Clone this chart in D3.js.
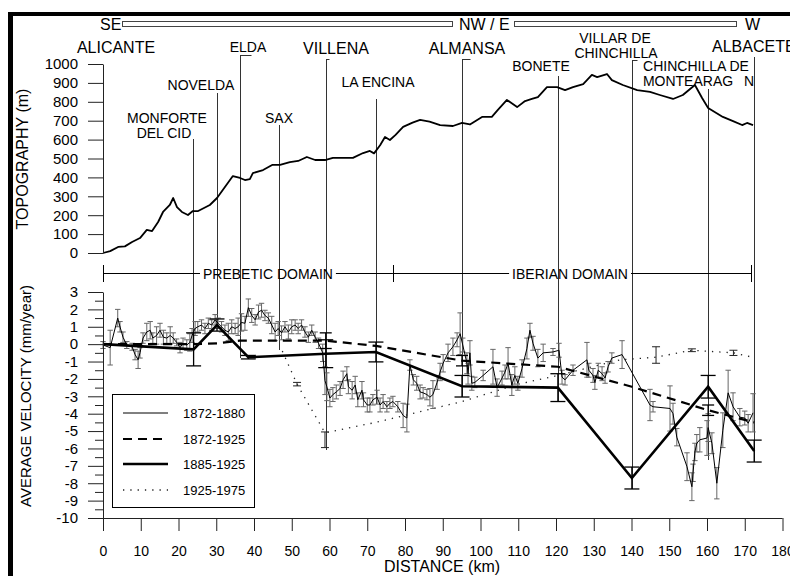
<!DOCTYPE html>
<html><head><meta charset="utf-8">
<script src="https://cdn.jsdelivr.net/npm/d3@7"></script>
<style>
body{margin:0;background:#fff}
svg{display:block}
text{font-family:Arial,"Liberation Sans",sans-serif;fill:#000}
</style>
</head><body>
<svg id="c" width="790" height="576"></svg>
<script>
// ---------------- DATA ----------------
const stationNames = ["ALICANTE","MONFORTE DEL CID","NOVELDA","ELDA","SAX","VILLENA","LA ENCINA","ALMANSA","BONETE","VILLAR DE CHINCHILLA","CHINCHILLA DE MONTEARAGON","ALBACETE"];
const stationKm = [0, 23.8, 30.2, 36.2, 46.7, 59.0, 72.3, 95.1, 120.5, 140.1, 160.3, 172.5];

const topoKm = [0,1.9,4,5.8,7.7,9.8,11.6,13,14.6,15.9,17.7,18.6,19.6,20.9,22.5,23.8,25.2,28.3,30.2,34.4,36.3,37.6,38.9,39.7,42.4,44.8,46.9,49.5,51.7,54,56.2,58.8,60.9,63.6,66.2,68.9,70.7,71.8,73.4,74.7,76,77.5,79.5,82,84,86.5,89.3,92.7,95.1,97.2,100.4,103,104.6,107,109.7,111.8,113.6,115.2,117.6,120.3,122.4,124.5,127.2,129.5,130.9,133.5,134.8,137.7,141.5,144.9,147.5,151,153.6,156.8,158.7,160.3,164.2,166.9,169.3,170.6,172.2];
const topoElev = [0,10,32,35,58,79,122,116,164,217,254,291,243,217,201,222,222,254,291,407,397,386,391,423,439,466,466,481,487,508,492,492,503,503,503,529,540,527,570,614,598,625,667,690,704,695,677,672,688,680,720,720,757,810,772,804,815,825,878,878,862,878,894,942,931,947,915,889,862,852,836,815,836,889,820,767,720,698,677,688,677];

const domainNames = ["PREBETIC DOMAIN","IBERIAN DOMAIN"];
const domainStartKm = [0, 76.8];
const domainEndKm = [76.8, 171.7];

const seriesNames = ["1872-1880","1872-1925","1885-1925","1925-1975"];

// 1872-1880 levelling (thin line)
const km1872_1880 = [0,1.9,3.9,4.5,5.3,6.3,7.7,8.5,9.3,9.8,10.6,11.6,12.5,13.2,14.2,15.1,16,16.9,17.8,18.6,19.5,20.4,21.2,22.2,23,23.6,24.4,25.1,26.1,27,27.9,28.8,29.7,30.5,31.4,32.3,33.2,34.1,35,35.8,36.7,37.6,38.5,39.4,40.3,41.2,42,42.9,43.8,44.7,45.6,46.4,47.3,48.2,49.1,50,50.9,51.7,52.6,53.5,54.4,55.3,56.2,57.1,58.2,58.8,59.3,60.1,60.9,61.8,62.8,63.6,64.6,65,66,66.8,67.5,68.6,69,70,70.7,71.5,72.6,73.4,74.2,75.2,76,76.8,78.1,79.5,80.5,81.3,82.2,83.1,84,84.8,85.8,86.6,87.4,88.5,89.3,90.1,91.4,92.7,93.8,94.6,95.3,96.4,96.7,97.2,97.7,98.5,100.7,103.3,104.4,105.7,106.5,107.3,108.3,109.1,109.9,111,112.3,113.1,113.9,115.2,116.6,119.2,120.8,121.6,122.4,124.5,128.2,128.7,129.8,130.3,131.2,132.2,133,133.8,134.8,137.5,144.9,145.7,150.2,151,152,154.7,156,156.3,156.8,157.3,158.1,160,160.3,161.3,162.6,164.2,165.6,166.9,168.7,170,170.9,172.2];
const vel1872_1880 = [-0.05,-0.2,1.5,1.0,0.4,-0.05,-0.15,-0.6,-0.9,-0.5,0.35,0.7,0.8,0.35,0.5,0.8,0.4,0.35,0.5,0.35,0.1,-0.2,0.05,-0.05,0.1,0.5,0.9,1.0,1.1,0.9,1.2,1.1,1.4,1.2,1.0,0.8,0.7,1.0,0.9,1.0,1.25,1.2,2.1,1.65,1.4,1.85,1.95,1.65,1.5,1.1,0.7,0.9,0.65,1.0,0.7,1.0,1.1,0.9,1.1,0.7,0.4,0.8,0.4,0.05,-0.5,-2.1,-2.45,-3.1,-2.9,-2.75,-2.55,-2.05,-1.7,-2.45,-2.65,-2.35,-3.2,-2.65,-3.2,-3.5,-3.5,-3.2,-3.05,-3.5,-3.3,-3.6,-3.4,-3.3,-3.6,-4.1,-4.25,-1.2,-2.05,-2.25,-2.75,-2.8,-2.9,-3.05,-2.9,-2.2,-1.6,-1.1,-0.5,-0.15,0.25,0.6,-0.05,-1.1,-1.7,-0.5,-2.25,-2.2,-1.8,-1.3,-2.5,-1.95,-1.6,-1.1,-2.35,-1.8,-2.25,-1.4,-0.25,0.8,0.05,-0.8,-0.5,-0.45,-0.35,-1.9,-2.05,-1.5,-0.9,-1.5,-1.8,-2.2,-1.5,-1.7,-1.95,-1.3,-0.8,-0.6,-3.5,-3.6,-3.7,-4.0,-5.35,-7.05,-8.2,-7.4,-6.2,-5.7,-5.5,-5.4,-4.8,-5.7,-8.0,-4.95,-2.8,-3.6,-4.2,-4.25,-4.55,-3.95];
const err1872_1880 = [0.2,1.0,0.5,0.3,0.3,0.2,0.2,0.3,0.5,0.3,0.3,0.5,0.5,0.3,0.5,0.4,0.4,0.3,0.5,0.3,0.2,0.3,0.3,0.3,0.5,0.4,0.4,0.3,0.3,0.3,0.3,0.3,0.3,0.3,0.3,0.3,0.5,0.4,0.3,0.5,0.5,0.4,0.5,0.4,0.3,0.4,0.4,0.3,0.3,0.5,0.5,0.4,0.4,0.3,0.4,0.4,0.3,0.3,0.3,0.3,0.3,0.3,0.3,0.3,0.5,0.8,0.8,0.5,0.4,0.4,0.4,0.5,0.4,0.4,0.5,0.5,0.4,0.5,0.4,0.4,0.4,0.3,0.4,0.4,0.4,0.3,0.3,0.3,0.3,0.7,0.8,0.3,0.3,0.4,0.4,0.3,0.3,0.5,0.8,0.4,0.5,0.5,0.5,0.5,0.4,1.2,0.4,0.6,0.6,0.7,0.4,0.3,0.3,1.0,0.5,0.4,0.4,0.9,0.6,0.5,0.4,0.5,0.6,0.4,0.4,0.5,0.5,0.2,0.4,0.4,0.3,0.3,1.0,0.4,0.4,0.4,0.4,0.4,0.3,0.3,0.3,0.8,0.9,0.3,1.3,0.6,0.5,0.8,0.8,0.5,0.5,0.5,0.7,1.0,0.8,0.6,0.9,1.0,1.3,0.8,0.5,0.4,0.5,1.1];

// 1872-1925 (dashed)
const km1872_1925 = [0, 24, 30.2, 36.2, 59, 72.3, 95.1, 120.5, 140.1, 160.3, 172.5];
const vel1872_1925 = [0, 0, 0.05, 0.2, 0.2, -0.1, -0.95, -1.3, -2.45, -3.8, -4.5];
const err1872_1925 = [0, 0, 0, 0, 0.45, 0, 0.3, 0, 0, 0.3, 0];

// 1885-1925 (thick)
const km1885_1925 = [0, 24, 30.2, 38.5, 59, 72.3, 95.1, 120.5, 140.1, 160.3, 172.5];
const vel1885_1925 = [0, -0.3, 1.1, -0.75, -0.55, -0.45, -2.42, -2.5, -7.7, -2.45, -6.15];
const err1885_1925 = [0, 0.95, 0.35, 0.1, 0.8, 0.57, 0.62, 0.8, 0.63, 0.65, 0.63];

// 1925-1975 (dotted)
const km1925_1975 = [47.5, 51.4, 58.8, 72.3, 95.1, 110, 120.5, 137, 146.5, 156, 167, 172];
const vel1925_1975 = [-0.4, -2.3, -5.1, -4.5, -3.3, -2.3, -1.8, -0.9, -0.75, -0.35, -0.5, -0.75];
const errLo1925_1975 = [0, 0.1, 0.85, 0, 0, 0, 0, 0, 0.35, 0.08, 0.15, 0];
const errHi1925_1975 = [0, 0.1, 0.05, 0, 0, 0, 0, 0, 0.6, 0.08, 0.15, 0];

const topoTicks = d3.range(0, 1001, 100);
const velTicks = d3.range(-10, 4, 1);
const distTicks = d3.range(0, 181, 10);

// ---------------- LAYOUT ----------------
const svg = d3.select("#c");
const x = d3.scaleLinear().domain([0, 180]).range([103, 782.5]);
const yT = d3.scaleLinear().domain([0, 1000]).range([253, 64]);
const yV = d3.scaleLinear().domain([-10, 3]).range([518, 292]);
const plainFmt = d => String(d);

// label layout per station: [text, cx, baseline, size, anchor]
const labelLayout = [
  [["ALICANTE",116,53,16,"middle"]],
  [["MONFORTE",167,123,14,"middle"],["DEL CID",164,138,14,"middle"]],
  [["NOVELDA",201,90,14,"middle"]],
  [["ELDA",248,52,14,"middle"]],
  [["SAX",279,123,14,"middle"]],
  [["VILLENA",336,54,16,"middle"]],
  [["LA ENCINA",378,87,14,"middle"]],
  [["ALMANSA",467,54,16,"middle"]],
  [["BONETE",541,71,14,"middle"]],
  [["VILLAR DE",615,43,14,"middle"],["CHINCHILLA",616,58,14,"middle"]],
  [["CHINCHILLA DE",696,71,14,"middle"],["MONTEARAG",688,86,14,"middle"],["N",749,86,14,"middle"]],
  [["ALBACETE",712,52,16,"start"]]
];
const lineTop = [null,139,93,55,125,59,99,59,76,60,89,57];
const lineBottom = [null,366,318,358,350,450,404,397,402,489,460,462];
const hookLen = [0,0,0,11,0,3,0,8,0,5,0,0];
const domainLabelShift = [20, -2];

// frame
svg.append("rect").attr("x",8).attr("y",12).attr("width",782).attr("height",4).attr("fill","#000");
svg.append("rect").attr("x",8).attr("y",12).attr("width",5).attr("height",564).attr("fill","#000");

// header
const hdr = svg.append("g").style("font-size","16px");
hdr.append("text").attr("x",100).attr("y",30).text("SE");
hdr.append("rect").attr("x",122.5).attr("y",21.5).attr("width",330).attr("height",5).attr("fill","none").attr("stroke","#444").attr("stroke-width",1);
hdr.append("text").attr("x",459).attr("y",30).text("NW / E");
hdr.append("rect").attr("x",514.5).attr("y",21.5).attr("width",222).attr("height",5).attr("fill","none").attr("stroke","#444").attr("stroke-width",1);
hdr.append("text").attr("x",745).attr("y",30).text("W");

// station vertical lines
const stG = svg.append("g");
stationKm.forEach((k,i)=>{
  if(lineTop[i]==null) return;
  const px = Math.round(x(k))+0.5;
  stG.append("line").attr("x1",px).attr("x2",px).attr("y1",lineTop[i]).attr("y2",lineBottom[i])
    .attr("stroke","#333").attr("stroke-width",1);
  if(hookLen[i]) stG.append("line").attr("x1",px).attr("x2",px+hookLen[i]).attr("y1",lineTop[i]+0.5).attr("y2",lineTop[i]+0.5)
    .attr("stroke","#333").attr("stroke-width",1);
});

// station labels
stationNames.forEach((n,i)=>{
  labelLayout[i].forEach(l=>{
    svg.append("text").attr("x",l[1]).attr("y",l[2]).attr("text-anchor",l[4])
      .style("font-size",l[3]+"px").text(l[0]);
  });
});

// topography
svg.append("path").datum(topoKm.map((k,i)=>[k,topoElev[i]]))
  .attr("fill","none").attr("stroke","#000").attr("stroke-width",1.8).attr("stroke-linejoin","round")
  .attr("d", d3.line().x(d=>x(d[0])).y(d=>yT(d[1])));

// topography axis
const axT = svg.append("g").attr("transform","translate(103,0)")
  .call(d3.axisLeft(yT).tickValues(topoTicks).tickFormat(plainFmt).tickSize(15).tickSizeOuter(0).tickPadding(10));
axT.selectAll("text").style("font-size","15px").style("font-family","Arial, 'Liberation Sans', sans-serif");
axT.selectAll("line,path").attr("stroke","#222");

svg.append("text").attr("transform","translate(27.5,159) rotate(-90)").attr("text-anchor","middle")
  .style("font-size","16px").text("TOPOGRAPHY (m)");

// domain bar
const domY = 273.5;
const domG = svg.append("g");
domainNames.forEach((n,i)=>{
  const x0 = x(domainStartKm[i]), x1 = x(domainEndKm[i]);
  const cx = (x0+x1)/2 + domainLabelShift[i];
  const t = domG.append("text").attr("x",cx).attr("y",278.5).attr("text-anchor","middle").style("font-size","14px").text(n);
  const w = t.node().getComputedTextLength();
  domG.append("line").attr("x1",x0).attr("x2",cx-w/2-3).attr("y1",domY).attr("y2",domY).attr("stroke","#000");
  domG.append("line").attr("x1",cx+w/2+3).attr("x2",x1).attr("y1",domY).attr("y2",domY).attr("stroke","#000");
});
[domainStartKm[0], domainStartKm[1], domainEndKm[1]].forEach(k=>{
  const px = Math.round(x(k))+0.5;
  domG.append("line").attr("x1",px).attr("x2",px).attr("y1",265).attr("y2",282).attr("stroke","#000");
});

// velocity series
const vline = d3.line().x(d=>x(d[0])).y(d=>yV(d[1]));
const serG = svg.append("g");

function errorBars(g, kms, vals, lo, hi, half, color, width){
  kms.forEach((k,i)=>{
    if(!lo[i] && !hi[i]) return;
    const px = x(k), ya = yV(vals[i]+hi[i]), yb = yV(vals[i]-lo[i]);
    g.append("line").attr("x1",px).attr("x2",px).attr("y1",ya).attr("y2",yb).attr("stroke",color).attr("stroke-width",width);
    g.append("line").attr("x1",px-half).attr("x2",px+half).attr("y1",ya).attr("y2",ya).attr("stroke",color).attr("stroke-width",width);
    g.append("line").attr("x1",px-half).attr("x2",px+half).attr("y1",yb).attr("y2",yb).attr("stroke",color).attr("stroke-width",width);
  });
}

// 1925-1975 dotted
serG.append("path").datum(km1925_1975.map((k,i)=>[k,vel1925_1975[i]]))
  .attr("fill","none").attr("stroke","#222").attr("stroke-width",1.3).attr("stroke-dasharray","1.3,6").attr("d",vline);
errorBars(serG, km1925_1975, vel1925_1975, errLo1925_1975, errHi1925_1975, 4, "#222", 1);

// 1872-1880 thin
errorBars(serG, km1872_1880, vel1872_1880, err1872_1880, err1872_1880, 2.7, "#666", 1);
serG.append("path").datum(km1872_1880.map((k,i)=>[k,vel1872_1880[i]]))
  .attr("fill","none").attr("stroke","#000").attr("stroke-width",1).attr("d",vline);

// 1872-1925 dashed
serG.append("path").datum(km1872_1925.map((k,i)=>[k,vel1872_1925[i]]))
  .attr("fill","none").attr("stroke","#000").attr("stroke-width",2.2).attr("stroke-dasharray","9,6").attr("d",vline);
errorBars(serG, km1872_1925, vel1872_1925, err1872_1925, err1872_1925, 6, "#000", 1.3);

// 1885-1925 thick
serG.append("path").datum(km1885_1925.map((k,i)=>[k,vel1885_1925[i]]))
  .attr("fill","none").attr("stroke","#000").attr("stroke-width",2.6).attr("stroke-linejoin","miter").attr("d",vline);
errorBars(serG, km1885_1925, vel1885_1925, err1885_1925, err1885_1925, 7.5, "#000", 1.3);

// legend
const lg = svg.append("g");
lg.append("rect").attr("x",112.5).attr("y",394.5).attr("width",142).attr("height",113).attr("fill","#fff").attr("stroke","#000").attr("stroke-width",1);
const legStyles = [
  {w:1, dash:null, c:"#000"},
  {w:2.2, dash:"9,6", c:"#000"},
  {w:2.6, dash:null, c:"#000"},
  {w:1.3, dash:"1.3,6", c:"#222"}
];
const legRowY = [413, 439, 464, 490];
seriesNames.forEach((n,i)=>{
  const s = legStyles[i];
  const l = lg.append("line").attr("x1",123).attr("x2",168).attr("y1",legRowY[i]).attr("y2",legRowY[i])
    .attr("stroke",s.c).attr("stroke-width",s.w);
  if(s.dash) l.attr("stroke-dasharray",s.dash);
  lg.append("text").attr("x",183).attr("y",legRowY[i]+4.5).style("font-size","13px").text(n);
});

// velocity axis
const axV = svg.append("g").attr("transform","translate(103,0)")
  .call(d3.axisLeft(yV).tickValues(velTicks).tickFormat(plainFmt).tickSize(15).tickSizeOuter(0).tickPadding(10));
axV.selectAll("text").style("font-size","15px").style("font-family","Arial, 'Liberation Sans', sans-serif");
axV.selectAll("line,path").attr("stroke","#222");
const axVm = svg.append("g").attr("transform","translate(103,0)")
  .call(d3.axisLeft(yV).tickValues(velTicks.slice(0,-1).map(v=>v+0.5)).tickSize(8).tickSizeOuter(0).tickFormat(""));
axVm.select(".domain").remove();
axVm.selectAll("line").attr("stroke","#222");

svg.append("text").attr("transform","translate(31,396) rotate(-90)").attr("text-anchor","middle")
  .style("font-size","15px").text("AVERAGE VELOCITY (mm/year)");

// distance axis
const axX = svg.append("g").attr("transform","translate(0,518)")
  .call(d3.axisBottom(x).tickValues(distTicks).tickFormat(plainFmt).tickSize(13).tickSizeOuter(0).tickPadding(15));
axX.selectAll("text").style("font-size","14px").style("font-family","Arial, 'Liberation Sans', sans-serif");
axX.selectAll("line,path").attr("stroke","#222");
axX.select(".domain").attr("d","M88,0.5H782.5");

svg.append("text").attr("x",442).attr("y",572).attr("text-anchor","middle").style("font-size","16px").text("DISTANCE (km)");
</script>
</body></html>
